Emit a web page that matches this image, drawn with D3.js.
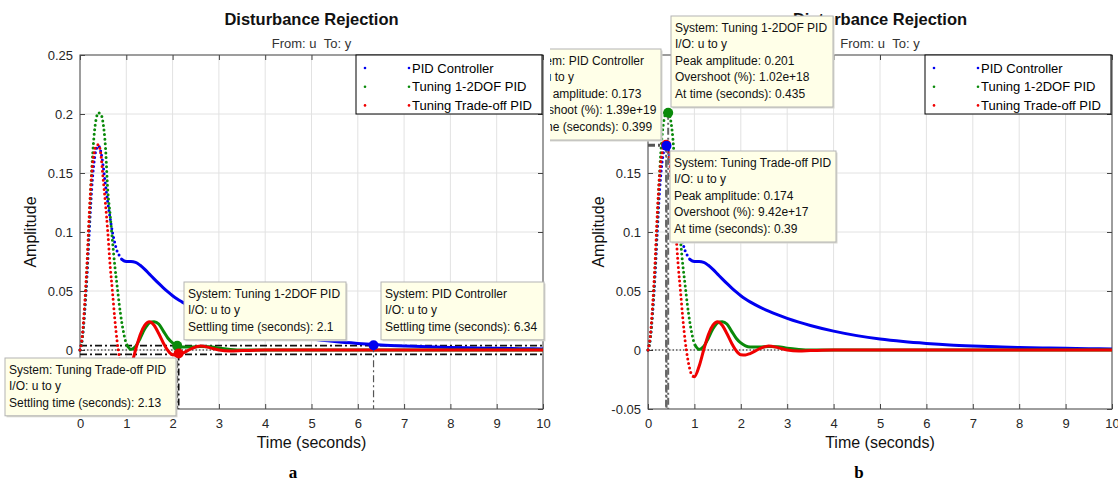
<!DOCTYPE html>
<html>
<head>
<meta charset="utf-8">
<script src="https://cdn.jsdelivr.net/npm/d3@7/dist/d3.min.js"></script>
<style>
body { margin: 0; background: #fff; }
text { font-family: "Liberation Sans", Arial, sans-serif; }
</style>
</head>
<body>
<svg id="fig" width="1118" height="482"></svg>
<script>
// sample times (s) and the three disturbance responses
var time = [0, 0.05, 0.1, 0.15, 0.2, 0.25, 0.3, 0.35, 0.4, 0.45, 0.5, 0.55, 0.6, 0.65, 0.7, 0.75, 0.8, 0.85, 0.9, 0.95,
            1.0, 1.1, 1.2, 1.3, 1.4, 1.5, 1.6, 1.7, 1.8, 1.9, 2.0, 2.1, 2.2, 2.4, 2.6, 2.8, 3.0, 3.25, 3.5,
            4, 4.5, 5, 5.5, 6, 6.5, 7, 7.5, 8, 8.5, 9, 9.5, 10];
var ampPID = [0, 0.010, 0.032, 0.062, 0.100, 0.135, 0.158, 0.170, 0.173, 0.168, 0.156, 0.140, 0.125, 0.112, 0.100, 0.091, 0.084, 0.080, 0.077, 0.0755,
              0.075, 0.075, 0.0743, 0.0718, 0.0683, 0.0643, 0.0603, 0.0564, 0.0527, 0.0492, 0.0460, 0.0432, 0.0408, 0.0366, 0.0329, 0.0297, 0.0268, 0.0236, 0.0208,
              0.0160, 0.0122, 0.0093, 0.0072, 0.0056, 0.0043, 0.0034, 0.0027, 0.0021, 0.0017, 0.0014, 0.0011, 0.0009];
var ampDOF = [0, 0.010, 0.034, 0.068, 0.110, 0.150, 0.180, 0.196, 0.201, 0.200, 0.192, 0.172, 0.135, 0.115, 0.093, 0.072, 0.055, 0.038, 0.024, 0.013,
              0.005, 0.0005, 0.003, 0.010, 0.018, 0.023, 0.024, 0.022, 0.016, 0.010, 0.006, 0.0035, 0.0025, 0.0025, 0.003, 0.0028, 0.0015, 0.0005, 0,
              0, 0, 0, 0, 0, 0, 0, 0, 0, 0, 0, 0, 0];
var ampTrade = [0, 0.012, 0.038, 0.072, 0.115, 0.148, 0.166, 0.173, 0.174, 0.166, 0.145, 0.124, 0.100, 0.072, 0.050, 0.027, 0.008, -0.006, -0.016, -0.022,
                -0.0226, -0.014, 0.000, 0.013, 0.021, 0.024, 0.021, 0.014, 0.006, -0.0005, -0.0040, -0.0042, -0.003, 0.001, 0.0034, 0.002, 0.000, -0.0008, -0.0005,
                0, 0, 0, 0, 0, 0, 0, 0, 0, 0, 0, 0, 0];

var seriesNames = ["PID Controller", "Tuning 1-2DOF PID", "Tuning Trade-off PID"];
var seriesColors = ["#0000f0", "#0a8a0a", "#f00000"];
var dotUntil = [0.9, 1.0, 0.95];   // samples look like separate dots up to here

var xTicks = [0, 1, 2, 3, 4, 5, 6, 7, 8, 9, 10];
var yTicks = [-0.05, 0, 0.05, 0.1, 0.15, 0.2, 0.25];

// characteristics picked in the two plots
var settleTimes = [6.34, 2.1, 2.13];
var settleAmps = [0.004, 0.0035, -0.003];
var bandHalf = [0.0035, 0.004];
var peakTimes = [0.399, 0.435, 0.39];
var peakAmps = [0.173, 0.201, 0.174];

var tipsA = [
  ["System: Tuning 1-2DOF PID", "I/O: u to y", "Settling time (seconds): 2.1"],
  ["System: PID Controller", "I/O: u to y", "Settling time (seconds): 6.34"],
  ["System: Tuning Trade-off PID", "I/O: u to y", "Settling time (seconds): 2.13"]
];
var tipsB = [
  ["System: PID Controller", "I/O: u to y", "Peak amplitude: 0.173", "Overshoot (%): 1.39e+19", "At time (seconds): 0.399"],
  ["System: Tuning 1-2DOF PID", "I/O: u to y", "Peak amplitude: 0.201", "Overshoot (%): 1.02e+18", "At time (seconds): 0.435"],
  ["System: Tuning Trade-off PID", "I/O: u to y", "Peak amplitude: 0.174", "Overshoot (%): 9.42e+17", "At time (seconds): 0.39"]
];

var allAmps = [ampPID, ampDOF, ampTrade];

var svg = d3.select("#fig");

var top0 = 55, bottom0 = 409;

function drawPanel(g, left, right, label) {
  var x = d3.scaleLinear().domain([0, 10]).range([left, right]);
  var y = d3.scaleLinear().domain([-0.05, 0.25]).range([bottom0, top0]);
  var mid = (left + right) / 2;

  // titles
  g.append("text").attr("x", mid).attr("y", 25).attr("text-anchor", "middle")
    .style("font-size", "16.5px").style("font-weight", "bold").attr("fill", "#111")
    .text("Disturbance Rejection");
  g.append("text").attr("x", mid).attr("y", 48).attr("text-anchor", "middle")
    .style("font-size", "13px").attr("fill", "#333")
    .text("From: u\u00a0\u00a0To: y");

  // grid
  g.append("g").selectAll("line").data(xTicks).enter().append("line")
    .attr("x1", x).attr("x2", x).attr("y1", top0).attr("y2", bottom0)
    .attr("stroke", "#e2e2e2");
  g.append("g").selectAll("line").data(yTicks).enter().append("line")
    .attr("x1", left).attr("x2", right).attr("y1", y).attr("y2", y)
    .attr("stroke", "#e2e2e2");

  var fmt = function(d) { return String(+d.toFixed(2)); };

  g.append("g").attr("transform", "translate(0," + bottom0 + ")")
    .call(d3.axisBottom(x).tickValues(xTicks).tickFormat(fmt).tickSizeInner(-5).tickSizeOuter(0).tickPadding(10));
  g.append("g").attr("transform", "translate(" + left + ",0)")
    .call(d3.axisLeft(y).tickValues(yTicks).tickFormat(fmt).tickSizeInner(-5).tickSizeOuter(0).tickPadding(7));
  g.append("g").attr("transform", "translate(0," + top0 + ")")
    .call(d3.axisTop(x).tickValues(xTicks).tickFormat("").tickSizeInner(-5).tickSizeOuter(0));
  g.append("g").attr("transform", "translate(" + right + ",0)")
    .call(d3.axisRight(y).tickValues(yTicks).tickFormat("").tickSizeInner(-5).tickSizeOuter(0));
  g.selectAll(".domain").remove();
  g.selectAll(".tick line").attr("stroke", "#444");
  g.selectAll(".tick text").style("font-size", "13px").attr("fill", "#262626")
    .style("font-family", "'Liberation Sans', Arial, sans-serif");

  g.append("rect").attr("x", left).attr("y", top0)
    .attr("width", right - left).attr("height", bottom0 - top0)
    .attr("fill", "none").attr("stroke", "#4a4a4a").attr("stroke-width", 1);

  // axis labels
  g.append("text").attr("x", mid).attr("y", 448).attr("text-anchor", "middle")
    .style("font-size", "16px").attr("fill", "#111").text("Time (seconds)");
  g.append("text").attr("transform", "translate(" + (left - 44) + "," + ((top0 + bottom0) / 2) + ")rotate(-90)")
    .attr("text-anchor", "middle").style("font-size", "16px").attr("fill", "#111").text("Amplitude");

  g.append("text").attr("x", label == "a" ? 293 : 859).attr("y", 478).attr("text-anchor", "middle")
    .style("font-family", "'Liberation Serif', 'Times New Roman', serif")
    .style("font-size", "17px").style("font-weight", "bold").text(label);

  return {x: x, y: y};
}

function drawCurves(g, sc) {
  allAmps.forEach(function(amp, k) {
    var pts = time.map(function(t, i) { return [t, amp[i]]; });
    var line = d3.line()
      .x(function(d) { return sc.x(d[0]); })
      .y(function(d) { return sc.y(d[1]); })
      .curve(d3.curveMonotoneX);
    g.append("path")
      .attr("d", line(pts.filter(function(d) { return d[0] <= dotUntil[k]; })))
      .attr("fill", "none").attr("stroke", seriesColors[k])
      .attr("stroke-width", 3).attr("stroke-linecap", "round")
      .attr("stroke-dasharray", "0 4.6");
    g.append("path")
      .attr("d", line(pts.filter(function(d) { return d[0] >= dotUntil[k]; })))
      .attr("fill", "none").attr("stroke", seriesColors[k])
      .attr("stroke-width", 3).attr("stroke-linejoin", "round");
  });
}

function drawLegend(g, sc) {
  var right = sc.x.range()[1] - 1, w = 186, lx = right - w;
  var lg = g.append("g");
  lg.append("rect").attr("x", lx).attr("y", top0).attr("width", w).attr("height", 59)
    .attr("fill", "#fff").attr("stroke", "#000").attr("stroke-width", 1);
  seriesNames.forEach(function(name, k) {
    var cy = top0 + 13 + k * 18.7;
    lg.append("circle").attr("cx", lx + 9).attr("cy", cy).attr("r", 1.3).attr("fill", seriesColors[k]);
    lg.append("circle").attr("cx", lx + 53).attr("cy", cy).attr("r", 1.3).attr("fill", seriesColors[k]);
    lg.append("text").attr("x", lx + 56).attr("y", cy + 4.6)
      .style("font-size", "13px").attr("fill", "#000").text(name);
  });
}

function drawTip(g, lines, bx, by, bw) {
  var lh = 16.6;
  var tg = g.append("g");
  tg.append("rect").attr("x", bx + 1.5).attr("y", by + 1.5).attr("width", bw).attr("height", lines.length * lh + 8)
    .attr("fill", "#d8d8d0");
  tg.append("rect").attr("x", bx).attr("y", by).attr("width", bw).attr("height", lines.length * lh + 8)
    .attr("fill", "#ffffe8").attr("stroke", "#b4b4b4").attr("stroke-width", 1);
  tg.selectAll("text").data(lines).enter().append("text")
    .attr("x", bx + 4).attr("y", function(d, i) { return by + 15.5 + i * lh; })
    .style("font-size", "12px").attr("fill", "#111").text(function(d) { return d; });
}

var dashDot = "7,3,2,3";

// ---- panel a: settling time ----
var gA = svg.append("g");
var sA = drawPanel(gA, 80, 543, "a");

bandHalf.forEach(function(b) {
  [b, -b].forEach(function(v) {
    gA.append("line").attr("x1", sA.x(0)).attr("x2", sA.x(10)).attr("y1", sA.y(v)).attr("y2", sA.y(v))
      .attr("stroke", "#111").attr("stroke-width", 1.2).attr("stroke-dasharray", dashDot);
  });
});
gA.append("line").attr("x1", sA.x(0)).attr("x2", sA.x(10)).attr("y1", sA.y(0)).attr("y2", sA.y(0))
  .attr("stroke", "#111").attr("stroke-width", 1.2).attr("stroke-dasharray", "1.5,2");

drawCurves(gA, sA);

settleTimes.forEach(function(t, k) {
  gA.append("line").attr("x1", sA.x(t)).attr("x2", sA.x(t)).attr("y1", sA.y(settleAmps[k])).attr("y2", bottom0)
    .attr("stroke", k == 0 ? "#555" : "#111").attr("stroke-width", k == 0 ? 1.2 : 1.8)
    .attr("stroke-dasharray", dashDot);
});
settleTimes.forEach(function(t, k) {
  gA.append("circle").attr("cx", sA.x(t)).attr("cy", sA.y(settleAmps[k])).attr("r", 5)
    .attr("fill", seriesColors[k]);
});

drawLegend(gA, sA);
drawTip(gA, tipsA[0], 184, 282, 162);
drawTip(gA, tipsA[1], 381, 282, 163);
drawTip(gA, tipsA[2], 5, 358, 171);

// ---- panel b: peak response ----
svg.append("clipPath").attr("id", "clipB").append("rect")
  .attr("x", 550).attr("y", 0).attr("width", 568).attr("height", 482);
var gB = svg.append("g").attr("clip-path", "url(#clipB)");
var sB = drawPanel(gB, 648, 1112, "b");

gB.append("line").attr("x1", sB.x(0)).attr("x2", sB.x(10)).attr("y1", sB.y(0)).attr("y2", sB.y(0))
  .attr("stroke", "#111").attr("stroke-width", 1.2).attr("stroke-dasharray", "1.5,2");

drawCurves(gB, sB);

peakTimes.forEach(function(t, k) {
  gB.append("line").attr("x1", sB.x(t)).attr("x2", sB.x(t)).attr("y1", sB.y(peakAmps[k])).attr("y2", bottom0)
    .attr("stroke", "#666").attr("stroke-width", 2).attr("stroke-dasharray", dashDot);
  gB.append("line").attr("x1", sB.x(0)).attr("x2", sB.x(t)).attr("y1", sB.y(peakAmps[k])).attr("y2", sB.y(peakAmps[k]))
    .attr("stroke", "#555").attr("stroke-width", 2).attr("stroke-dasharray", dashDot);
});
[2, 1, 0].forEach(function(k) {
  gB.append("circle").attr("cx", sB.x(peakTimes[k])).attr("cy", sB.y(peakAmps[k])).attr("r", 5)
    .attr("fill", seriesColors[k]);
});

drawLegend(gB, sB);
drawTip(gB, tipsB[0], 518, 49, 143);
drawTip(gB, tipsB[1], 671, 16, 162);
drawTip(gB, tipsB[2], 670, 151, 166);
</script>
</body>
</html>
